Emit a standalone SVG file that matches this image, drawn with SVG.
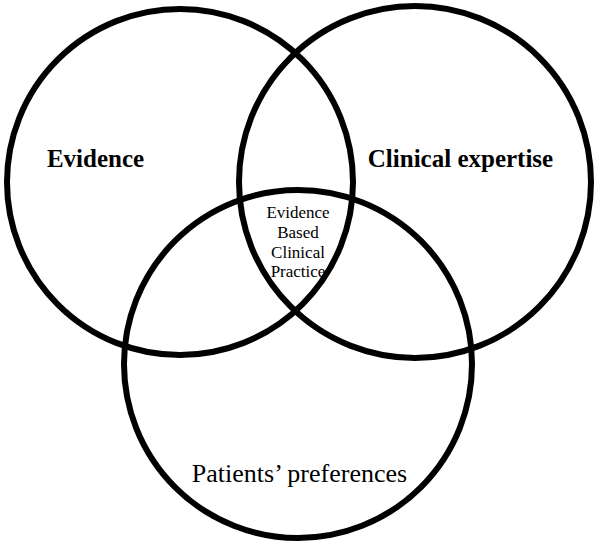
<svg xmlns="http://www.w3.org/2000/svg" width="600" height="547" viewBox="0 0 600 547">
<style>
.c{fill:none;stroke:#000;stroke-width:6}
.t{font-family:"Liberation Serif","Times New Roman",serif;fill:#000;text-anchor:middle}
.b{font-weight:bold;font-size:25px}
.s{font-size:17px}
.p{font-size:26px}
</style>
<rect width="600" height="547" fill="#fff"/>
<g id="evidence">
<circle class="c" cx="180" cy="182" r="173"/>
<text class="t b" x="95.5" y="167">Evidence</text>
</g>
<g id="clinical-expertise">
<circle class="c" cx="415" cy="182" r="176"/>
<text class="t b" x="460.5" y="167">Clinical expertise</text>
</g>
<g id="patients-preferences">
<circle class="c" cx="298" cy="364" r="174"/>
<text class="t p" x="299.5" y="482">Patients’ preferences</text>
</g>
<g id="ebcp">
<text class="t s" x="298" y="218">Evidence</text>
<text class="t s" x="298" y="238">Based</text>
<text class="t s" x="298" y="258">Clinical</text>
<text class="t s" x="298" y="277">Practice</text>
</g>
<g id="connectors"/>
</svg>
